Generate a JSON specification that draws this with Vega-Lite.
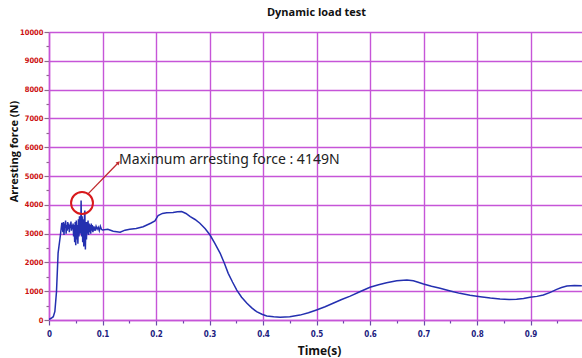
{
  "$schema": "https://vega.github.io/schema/vega-lite/v6.json",
  "width": 535,
  "height": 288,
  "autosize": {"type": "none"},
  "padding": {"left": 49, "top": 32, "right": 0, "bottom": 38},
  "background": "white",
  "title": {"text": "Dynamic load test", "font": "Open Sans", "fontSize": 11, "fontWeight": "bold", "color": "#111", "offset": 10, "anchor": "middle"},
  "config": {"view": {"stroke": null}},
  "datasets": {
    "force": [
      {"t": 0.0, "f": 20}, {"t": 0.004, "f": 60}, {"t": 0.008, "f": 115}, {"t": 0.011, "f": 300},
      {"t": 0.014, "f": 980}, {"t": 0.017, "f": 2320}, {"t": 0.021, "f": 2900}, {"t": 0.024, "f": 3370},
      {"t": 0.026, "f": 3050}, {"t": 0.027, "f": 3400}, {"t": 0.028, "f": 2950}, {"t": 0.029, "f": 3350},
      {"t": 0.030, "f": 3200}, {"t": 0.031, "f": 3450}, {"t": 0.032, "f": 3000}, {"t": 0.033, "f": 3300},
      {"t": 0.034, "f": 3100}, {"t": 0.035, "f": 3400}, {"t": 0.036, "f": 3150}, {"t": 0.037, "f": 3350},
      {"t": 0.038, "f": 3050}, {"t": 0.039, "f": 3300}, {"t": 0.040, "f": 3200}, {"t": 0.041, "f": 3420},
      {"t": 0.042, "f": 3100}, {"t": 0.043, "f": 3300}, {"t": 0.044, "f": 3150}, {"t": 0.045, "f": 3350},
      {"t": 0.046, "f": 2900}, {"t": 0.047, "f": 3300}, {"t": 0.048, "f": 2700}, {"t": 0.049, "f": 3400},
      {"t": 0.050, "f": 2600}, {"t": 0.051, "f": 3450}, {"t": 0.052, "f": 2800}, {"t": 0.053, "f": 3300},
      {"t": 0.054, "f": 2650}, {"t": 0.055, "f": 3500}, {"t": 0.056, "f": 2900}, {"t": 0.057, "f": 3600},
      {"t": 0.058, "f": 3000}, {"t": 0.0595, "f": 3300}, {"t": 0.060, "f": 4149}, {"t": 0.061, "f": 2900},
      {"t": 0.062, "f": 3600}, {"t": 0.063, "f": 2700}, {"t": 0.064, "f": 3500}, {"t": 0.065, "f": 2550},
      {"t": 0.066, "f": 3500}, {"t": 0.067, "f": 3800}, {"t": 0.068, "f": 2450}, {"t": 0.069, "f": 3400},
      {"t": 0.070, "f": 2800}, {"t": 0.071, "f": 3400}, {"t": 0.072, "f": 3000}, {"t": 0.073, "f": 3450},
      {"t": 0.074, "f": 2950}, {"t": 0.075, "f": 3350}, {"t": 0.076, "f": 3050}, {"t": 0.077, "f": 3300},
      {"t": 0.078, "f": 3000}, {"t": 0.079, "f": 3350}, {"t": 0.080, "f": 3100}, {"t": 0.081, "f": 3300},
      {"t": 0.082, "f": 3050}, {"t": 0.084, "f": 3250}, {"t": 0.086, "f": 3100}, {"t": 0.088, "f": 3250},
      {"t": 0.090, "f": 3150}, {"t": 0.092, "f": 3220}, {"t": 0.094, "f": 3100}, {"t": 0.096, "f": 3250},
      {"t": 0.098, "f": 3150}, {"t": 0.100, "f": 3125}, {"t": 0.110, "f": 3150}, {"t": 0.120, "f": 3080},
      {"t": 0.133, "f": 3045}, {"t": 0.142, "f": 3120}, {"t": 0.151, "f": 3150}, {"t": 0.163, "f": 3180},
      {"t": 0.176, "f": 3240}, {"t": 0.190, "f": 3360}, {"t": 0.198, "f": 3440}, {"t": 0.204, "f": 3630},
      {"t": 0.212, "f": 3700}, {"t": 0.220, "f": 3720}, {"t": 0.232, "f": 3730}, {"t": 0.240, "f": 3760},
      {"t": 0.248, "f": 3765}, {"t": 0.256, "f": 3700}, {"t": 0.264, "f": 3590}, {"t": 0.273, "f": 3490},
      {"t": 0.282, "f": 3360}, {"t": 0.292, "f": 3170}, {"t": 0.301, "f": 2950}, {"t": 0.310, "f": 2660},
      {"t": 0.320, "f": 2315}, {"t": 0.328, "f": 1960}, {"t": 0.335, "f": 1620}, {"t": 0.343, "f": 1320},
      {"t": 0.351, "f": 1040}, {"t": 0.360, "f": 790}, {"t": 0.370, "f": 580}, {"t": 0.379, "f": 420},
      {"t": 0.388, "f": 290}, {"t": 0.398, "f": 200}, {"t": 0.407, "f": 140}, {"t": 0.420, "f": 110},
      {"t": 0.432, "f": 95}, {"t": 0.450, "f": 115}, {"t": 0.469, "f": 170}, {"t": 0.485, "f": 250},
      {"t": 0.500, "f": 350}, {"t": 0.516, "f": 460}, {"t": 0.531, "f": 580}, {"t": 0.547, "f": 710},
      {"t": 0.563, "f": 830}, {"t": 0.582, "f": 990}, {"t": 0.600, "f": 1135}, {"t": 0.616, "f": 1225},
      {"t": 0.631, "f": 1295}, {"t": 0.650, "f": 1360}, {"t": 0.669, "f": 1390}, {"t": 0.681, "f": 1365},
      {"t": 0.690, "f": 1310}, {"t": 0.700, "f": 1250}, {"t": 0.715, "f": 1170}, {"t": 0.731, "f": 1100},
      {"t": 0.750, "f": 1010}, {"t": 0.768, "f": 925}, {"t": 0.787, "f": 860}, {"t": 0.806, "f": 810},
      {"t": 0.825, "f": 760}, {"t": 0.843, "f": 725}, {"t": 0.860, "f": 715}, {"t": 0.874, "f": 720},
      {"t": 0.887, "f": 750}, {"t": 0.899, "f": 790}, {"t": 0.912, "f": 820}, {"t": 0.924, "f": 870},
      {"t": 0.937, "f": 960}, {"t": 0.949, "f": 1065}, {"t": 0.958, "f": 1130}, {"t": 0.968, "f": 1180},
      {"t": 0.982, "f": 1195}, {"t": 0.996, "f": 1190}
    ],
    "circle": [{"t": 0.0617, "f": 4060}],
    "pointer": [{"t": 0.073, "f": 4380, "t2": 0.129, "f2": 5450}],
    "arrowhead": [{"t": 0.129, "f": 5450}],
    "label": [{"t": 0.131, "f": 5560, "text": "Maximum arresting force : 4149N"}]
  },
  "encoding": {
    "x": {
      "field": "t", "type": "quantitative",
      "scale": {"domain": [0, 1.0], "nice": false},
      "axis": {
        "title": "Time(s)",
        "values": [0, 0.05, 0.1, 0.15, 0.2, 0.25, 0.3, 0.35, 0.4, 0.45, 0.5, 0.55, 0.6, 0.65, 0.7, 0.75, 0.8, 0.85, 0.9, 0.95],
        "labelExpr": "round(datum.value*20) % 2 === 0 ? format(datum.value, '.1~f') : ''",
        "labelFont": "DejaVu Sans Condensed", "labelFontSize": 8, "labelFontWeight": "bold", "labelColor": "#1c1c80",
        "labelPadding": 5, "labelFlush": false, "labelOverlap": false,
        "tickSize": {"condition": {"test": "round(datum.value*20) % 2 !== 0", "value": 3}, "value": 5},
        "tickColor": "#6a4aa8", "tickWidth": 1.2,
        "grid": true, "gridColor": "#c655d8", "gridWidth": 1.4,
        "gridOpacity": {"condition": {"test": "round(datum.value*20) % 2 !== 0", "value": 0}, "value": 1},
        "domainColor": "#c655d8", "domainWidth": 1.5,
        "titleFont": "Open Sans", "titleFontSize": 12, "titleFontWeight": "bold", "titleColor": "#111",
        "titleX": 270, "titleY": 30, "titleBaseline": "middle", "titleAlign": "center"
      }
    },
    "y": {
      "field": "f", "type": "quantitative",
      "scale": {"domain": [0, 10000], "nice": false},
      "axis": {
        "title": "Arresting force (N)",
        "values": [0, 500, 1000, 1500, 2000, 2500, 3000, 3500, 4000, 4500, 5000, 5500, 6000, 6500, 7000, 7500, 8000, 8500, 9000, 9500, 10000],
        "labelExpr": "datum.value % 1000 === 0 ? format(datum.value, 'd') : ''",
        "labelFont": "DejaVu Sans Condensed", "labelFontSize": 7.5, "labelFontWeight": "bold", "labelColor": "#cc1010",
        "labelPadding": 1, "labelFlush": false, "labelOverlap": false,
        "tickSize": {"condition": {"test": "datum.value % 1000 !== 0", "value": 3}, "value": 5},
        "tickColor": "#8a6a8a", "tickWidth": 1.2,
        "grid": true, "gridColor": "#c655d8", "gridWidth": 1.4,
        "gridOpacity": {"condition": {"test": "datum.value % 1000 !== 0", "value": 0}, "value": 1},
        "domainColor": "#c655d8", "domainWidth": 1.5,
        "titleFont": "Open Sans", "titleFontSize": 11, "titleFontWeight": "bold", "titleColor": "#111",
        "titleX": -35, "titleY": 119, "titleBaseline": "middle", "titleAlign": "center", "titleAngle": 270
      }
    }
  },
  "layer": [
    {
      "data": {"name": "force"},
      "mark": {"type": "line", "color": "#2430b0", "strokeWidth": 1.5, "clip": true}
    },
    {
      "data": {"name": "pointer"},
      "mark": {"type": "rule", "color": "#c0282c", "strokeWidth": 1.3},
      "encoding": {
        "x2": {"field": "t2"},
        "y2": {"field": "f2"}
      }
    },
    {
      "data": {"name": "arrowhead"},
      "mark": {"type": "point", "shape": "triangle", "filled": true, "color": "#c0282c", "size": 18, "angle": 45, "opacity": 1}
    },
    {
      "data": {"name": "circle"},
      "mark": {"type": "point", "shape": "circle", "filled": false, "stroke": "#d8191c", "strokeWidth": 2, "size": 480, "opacity": 1}
    },
    {
      "data": {"name": "label"},
      "mark": {"type": "text", "align": "left", "baseline": "middle", "font": "Noto Sans", "fontSize": 14, "color": "#222"},
      "encoding": {
        "text": {"field": "text"}
      }
    }
  ]
}
